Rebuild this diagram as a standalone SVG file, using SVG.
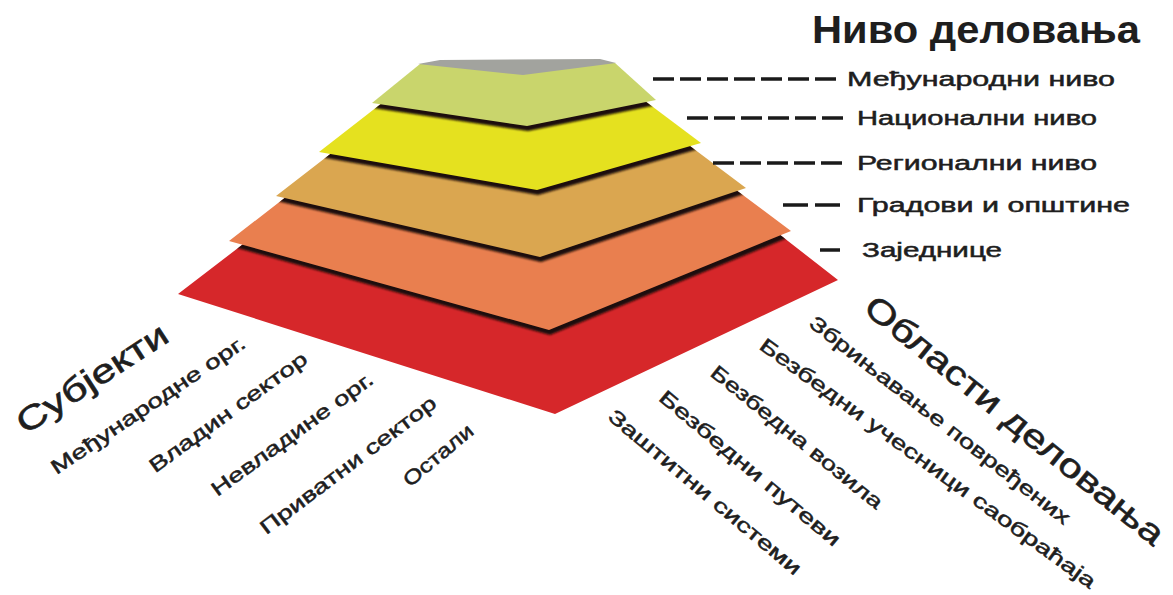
<svg xmlns="http://www.w3.org/2000/svg" width="1173" height="595" viewBox="0 0 1173 595">
<style>
.lbl{font-family:"Liberation Sans",Arial,sans-serif;font-size:20px;fill:#1e1e1e;stroke:#1e1e1e;stroke-width:0.5}
.title{font-family:"Liberation Sans",Arial,sans-serif;font-size:38px;font-weight:bold;fill:#1e1e1e}
.rot{font-family:"Liberation Sans",Arial,sans-serif;font-size:20px;fill:#1e1e1e;stroke:#1e1e1e;stroke-width:0.5;text-anchor:middle}
.rotbig{font-family:"Liberation Sans",Arial,sans-serif;font-size:33px;fill:#1e1e1e;stroke:#1e1e1e;stroke-width:0.6;text-anchor:middle}
.dash{stroke:#1a1a1a;stroke-width:3.5;fill:none}
.shadow{fill:#1c1008;filter:url(#blur)}
</style>
<defs>
<filter id="blur" x="-10%" y="-10%" width="120%" height="130%"><feGaussianBlur stdDeviation="1.3"/></filter>
<clipPath id="clipRed"><polygon points="178,294 555,414 838,280 770,227 550,290 255,235"/></clipPath>
<clipPath id="clipOrange"><polygon points="229,241 549,330 791,231 720,178 540,220 300,186"/></clipPath>
<clipPath id="clipTan"><polygon points="276,196 540,257 746,188 670,131 530,150 360,131"/></clipPath>
<clipPath id="clipYellow"><polygon points="319,152 537,190 701,143 621,83 520,85 400,89"/></clipPath>
</defs>
<rect width="1173" height="595" fill="#ffffff"/>

<g id="layer-red">
<polygon points="178,294 555,414 838,280 770,227 550,290 255,235" fill="#d6272a"/>
<g clip-path="url(#clipRed)"><polygon class="shadow" transform="translate(1,5)" points="229,241 549,330 791,231 720,178 540,220 300,186"/></g>
</g>
<g id="layer-orange">
<polygon points="229,241 549,330 791,231 720,178 540,220 300,186" fill="#e97f4f"/>
<g clip-path="url(#clipOrange)"><polygon class="shadow" transform="translate(1,5)" points="276,196 540,257 746,188 670,131 530,150 360,131"/></g>
</g>
<g id="layer-tan">
<polygon points="276,196 540,257 746,188 670,131 530,150 360,131" fill="#daa650"/>
<g clip-path="url(#clipTan)"><polygon class="shadow" transform="translate(1,5)" points="319,152 537,190 701,143 621,83 520,85 400,89"/></g>
</g>
<g id="layer-yellow">
<polygon points="319,152 537,190 701,143 621,83 520,85 400,89" fill="#e5e11f"/>
<g clip-path="url(#clipYellow)"><polygon class="shadow" transform="translate(1,5)" points="372,103 420,64 615,63 656,100 527,126"/></g>
</g>
<g id="layer-green">
<polygon points="372,103 420,64 615,63 656,100 527,126" fill="#c9d56c"/>
<polygon points="418,64 440,60 600,59 616,63 523,75" fill="#a2a39e"/>
</g>

<g id="connectors">
<line class="dash" x1="653" y1="79" x2="838" y2="79" stroke-dasharray="21 6"/>
<line class="dash" x1="687" y1="118" x2="843" y2="118" stroke-dasharray="21 6"/>
<line class="dash" x1="713" y1="163" x2="842" y2="163" stroke-dasharray="21 6"/>
<line class="dash" x1="783" y1="205" x2="840" y2="205" stroke-dasharray="25 7"/>
<line class="dash" x1="820" y1="250" x2="840" y2="250"/>
</g>

<g id="title-levels">
<text class="title" x="812" y="43" textLength="328" lengthAdjust="spacingAndGlyphs">Ниво деловања</text>
</g>
<g id="label-international"><text class="lbl" x="847" y="86" textLength="268" lengthAdjust="spacingAndGlyphs">Међународни ниво</text></g>
<g id="label-national"><text class="lbl" x="857" y="125" textLength="240" lengthAdjust="spacingAndGlyphs">Национални ниво</text></g>
<g id="label-regional"><text class="lbl" x="857" y="170" textLength="240" lengthAdjust="spacingAndGlyphs">Регионални ниво</text></g>
<g id="label-cities"><text class="lbl" x="857" y="212" textLength="273" lengthAdjust="spacingAndGlyphs">Градови и општине</text></g>
<g id="label-community"><text class="lbl" x="862" y="257" textLength="140" lengthAdjust="spacingAndGlyphs">Заједнице</text></g>

<g id="subjects">
<text class="rotbig" transform="translate(92,378) rotate(-33)" dy="0.35em" textLength="174" lengthAdjust="spacingAndGlyphs">Субјекти</text>
<text class="rot" transform="translate(148,405) rotate(-34)" dy="0.35em" textLength="230" lengthAdjust="spacingAndGlyphs">Међународне орг.</text>
<text class="rot" transform="translate(228,412) rotate(-36)" dy="0.35em" textLength="190" lengthAdjust="spacingAndGlyphs">Владин сектор</text>
<text class="rot" transform="translate(292,434) rotate(-36)" dy="0.35em" textLength="195" lengthAdjust="spacingAndGlyphs">Невладине орг.</text>
<text class="rot" transform="translate(348,465) rotate(-37)" dy="0.35em" textLength="215" lengthAdjust="spacingAndGlyphs">Приватни сектор</text>
<text class="rot" transform="translate(438,455) rotate(-40)" dy="0.35em" textLength="85" lengthAdjust="spacingAndGlyphs">Остали</text>
</g>

<g id="areas">
<text class="rotbig" transform="translate(1015,420) rotate(39)" dy="0.35em" textLength="375" lengthAdjust="spacingAndGlyphs">Области деловања</text>
<text class="rot" transform="translate(940,420) rotate(38)" dy="0.35em" textLength="325" lengthAdjust="spacingAndGlyphs">Збрињавање повређених</text>
<text class="rot" transform="translate(928,463) rotate(36)" dy="0.35em" textLength="410" lengthAdjust="spacingAndGlyphs">Безбедни учесници саобраћаја</text>
<text class="rot" transform="translate(797,437) rotate(39)" dy="0.35em" textLength="215" lengthAdjust="spacingAndGlyphs">Безбедна возила</text>
<text class="rot" transform="translate(750,468) rotate(40)" dy="0.35em" textLength="230" lengthAdjust="spacingAndGlyphs">Безбедни путеви</text>
<text class="rot" transform="translate(705,492) rotate(40)" dy="0.35em" textLength="245" lengthAdjust="spacingAndGlyphs">Заштитни системи</text>
</g>
</svg>
